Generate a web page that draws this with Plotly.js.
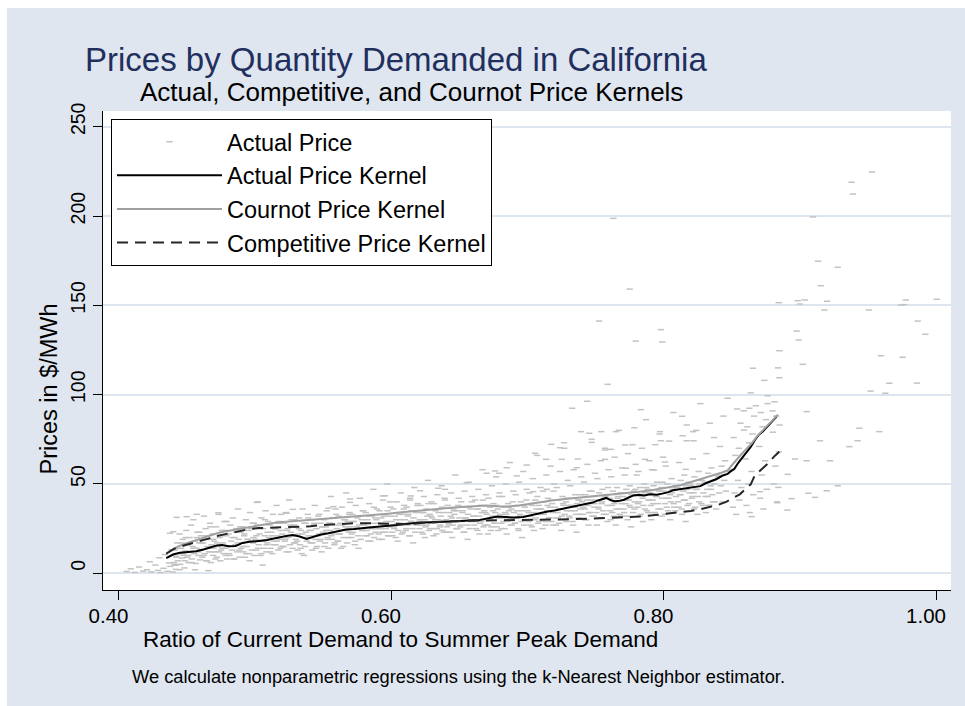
<!DOCTYPE html>
<html>
<head>
<meta charset="utf-8">
<script src="https://cdn.plot.ly/plotly-3.0.1.min.js"></script>
<style>
  html, body { margin: 0; padding: 0; background: #ffffff; }
  #chart { position: absolute; left: 7px; top: 8px; width: 958px; height: 698px; }
</style>
</head>
<body>
<div id="chart"></div>
<script>
// ---------------- DATA ----------------
const xTickVals = [0.4, 0.6, 0.8, 1.0];
const xTickText = ["0.40", "0.60", "0.80", "1.00"];
const yTickVals = [0, 50, 100, 150, 200, 250];
const yTickText = ["0", "50", "100", "150", "200", "250"];

const seriesNames = ["Actual Price", "Actual Price Kernel", "Cournot Price Kernel", "Competitive Price Kernel"];

// Actual prices: [demand ratio, $/MWh]
const priceLowEnd = [[0.406,1.0],[0.409,2.5],[0.412,0.5],[0.415,3.5],[0.418,1.2],[0.421,2.0],[0.423,6.5],[0.424,0.8],[0.427,4.6],[0.429,1.6],[0.430,8.7],[0.431,0.4],[0.433,2.8],[0.434,10.5],[0.436,1.1],[0.437,5.8],[0.438,3.9],[0.439,13.2],[0.440,0.7],[0.442,2.2],[0.4378,22.4],[0.4402,23.3],[0.4427,31.3],[0.450,31.7],[0.4574,33.0],[0.4733,33.9],[0.4659,1.5],[0.5058,4.6]];

const priceBandLeft = [
[0.4405,6],[0.4412,13],[0.4418,4.5],[0.4423,9.5],[0.4431,17],[0.4436,7],[0.4442,11],[0.4448,22],[0.4453,5],[0.4459,14],[0.4465,8.5],[0.4471,19],[0.4477,10],[0.4484,3],[0.4491,12.5],[0.4497,24],
[0.4503,9],[0.4509,16],[0.4514,6],[0.4521,20],[0.4526,12],[0.4532,27],[0.4538,8],[0.4544,15],[0.4549,30],[0.4556,11],[0.4561,18],[0.4567,5.5],[0.4573,14],[0.4579,23],[0.4586,10],[0.4592,17],[0.4598,7.5],
[0.4602,13],[0.4608,21],[0.4615,9],[0.4621,17],[0.4627,32],[0.4633,11],[0.4639,25],[0.4645,7],[0.4652,15],[0.4658,19],[0.4664,12],[0.4671,28],[0.4677,6],[0.4683,16],[0.4689,22],[0.4695,10],[0.4699,14],
[0.4703,18],[0.4709,12],[0.4716,26],[0.4722,9],[0.4728,15],[0.4734,33],[0.4741,20],[0.4747,7],[0.4753,13],[0.4759,24],[0.4766,17],[0.4772,11],[0.4778,29],[0.4784,14],[0.4791,21],[0.4797,8],
[0.4802,15],[0.4808,22],[0.4815,10],[0.4821,27],[0.4827,18],[0.4833,13],[0.4839,31],[0.4846,8],[0.4852,20],[0.4858,16],[0.4864,25],[0.4871,12],[0.4877,36],[0.4883,19],[0.4889,9],[0.4896,23],[0.4899,14],
[0.4903,17],[0.4909,26],[0.4915,12],[0.4922,21],[0.4928,9],[0.4934,30],[0.4940,15],[0.4947,19],[0.4953,24],[0.4959,11],[0.4965,34],[0.4972,18],[0.4978,13],[0.4984,28],[0.4991,20],[0.4997,10],
[0.5004,19],[0.5010,13],[0.5017,27],[0.5023,40],[0.5029,16],[0.5035,22],[0.5042,10],[0.5048,31],[0.5054,18],[0.5061,25],[0.5067,14],[0.5073,21],[0.5079,35],[0.5086,12],[0.5092,17],[0.5098,29],
[0.5103,20],[0.5109,27],[0.5116,14],[0.5122,23],[0.5128,11],[0.5134,33],[0.5141,18],[0.5147,25],[0.5153,16],[0.5160,38],[0.5166,21],[0.5172,13],[0.5178,29],[0.5185,19],[0.5191,24],[0.5197,15],
[0.5202,22],[0.5208,15],[0.5215,28],[0.5221,18],[0.5227,34],[0.5233,12],[0.5240,25],[0.5246,20],[0.5252,41],[0.5258,16],[0.5265,23],[0.5271,30],[0.5277,14],[0.5283,21],[0.5290,27],[0.5296,17],
[0.5301,19],[0.5307,26],[0.5314,13],[0.5320,22],[0.5326,31],[0.5332,16],[0.5339,24],[0.5345,11],[0.5351,36],[0.5357,20],[0.5364,28],[0.5370,15],[0.5376,23],[0.5382,18],[0.5389,33],[0.5395,21],
[0.5402,24],[0.5408,17],[0.5415,30],[0.5421,13],[0.5427,21],[0.5433,27],[0.5440,38],[0.5446,19],[0.5452,25],[0.5458,15],[0.5465,32],[0.5471,22],[0.5477,18],[0.5483,28],[0.5490,12],[0.5496,26]
];

const priceBandMid = [
[0.5503,23],[0.5509,30],[0.5516,17],[0.5522,26],[0.5528,35],[0.5534,20],[0.5541,14],[0.5547,28],[0.5553,24],[0.5559,43],[0.5566,19],[0.5572,31],[0.5578,22],[0.5584,16],[0.5591,27],[0.5597,33],
[0.5602,25],[0.5608,18],[0.5615,32],[0.5621,22],[0.5627,28],[0.5633,14],[0.5640,37],[0.5646,24],[0.5652,20],[0.5658,30],[0.5665,26],[0.5671,45],[0.5677,17],[0.5683,29],[0.5690,23],[0.5696,34],
[0.5703,26],[0.5709,20],[0.5716,33],[0.5722,23],[0.5728,29],[0.5734,16],[0.5741,38],[0.5747,25],[0.5753,31],[0.5759,21],[0.5766,27],[0.5772,42],[0.5778,19],[0.5784,30],[0.5791,24],[0.5797,35],
[0.5802,27],[0.5808,21],[0.5815,34],[0.5821,24],[0.5827,30],[0.5833,18],[0.5840,39],[0.5846,26],[0.5852,22],[0.5858,32],[0.5865,28],[0.5871,47],[0.5877,20],[0.5883,31],[0.5890,25],[0.5896,36],
[0.5903,28],[0.5909,22],[0.5916,35],[0.5922,25],[0.5928,31],[0.5934,19],[0.5941,41],[0.5947,27],[0.5953,33],[0.5959,23],[0.5966,29],[0.5972,50],[0.5978,21],[0.5984,32],[0.5991,26],[0.5997,37],
[0.6003,29],[0.6009,23],[0.6016,36],[0.6022,26],[0.6028,32],[0.6034,20],[0.6041,40],[0.6047,28],[0.6053,24],[0.6059,34],[0.6066,30],[0.6072,45],[0.6078,22],[0.6084,33],[0.6091,27],[0.6097,38],
[0.6102,30],[0.6108,24],[0.6115,37],[0.6121,27],[0.6127,33],[0.6133,21],[0.6140,42],[0.6146,29],[0.6152,35],[0.6158,25],[0.6165,31],[0.6171,48],[0.6177,23],[0.6183,34],[0.6190,28],[0.6196,39],
[0.6203,29],[0.6209,25],[0.6216,38],[0.6222,27],[0.6228,34],[0.6234,22],[0.6241,43],[0.6247,30],[0.6253,26],[0.6259,36],[0.6266,32],[0.6272,52],[0.6278,24],[0.6284,33],[0.6291,28],[0.6297,40],
[0.6302,31],[0.6308,25],[0.6315,39],[0.6321,28],[0.6327,35],[0.6333,22],[0.6340,44],[0.6346,30],[0.6352,36],[0.6358,26],[0.6365,32],[0.6371,49],[0.6377,24],[0.6383,34],[0.6390,29],[0.6396,41],
[0.6403,30],[0.6409,26],[0.6416,38],[0.6422,28],[0.6428,34],[0.6434,23],[0.6441,45],[0.6447,31],[0.6453,27],[0.6459,36],[0.6466,33],[0.6472,55],[0.6478,25],[0.6484,35],[0.6491,29],[0.6497,42],
[0.6502,31],[0.6508,26],[0.6515,40],[0.6521,29],[0.6527,35],[0.6533,23],[0.6540,46],[0.6546,31],[0.6552,37],[0.6558,27],[0.6565,33],[0.6571,51],[0.6577,25],[0.6583,36],[0.6590,30],[0.6596,43],
[0.6603,32],[0.6609,27],[0.6616,41],[0.6622,29],[0.6628,36],[0.6634,24],[0.6641,47],[0.6647,32],[0.6653,28],[0.6659,38],[0.6666,34],[0.6672,58],[0.6678,26],[0.6684,35],[0.6691,30],[0.6697,44],
[0.6702,33],[0.6708,27],[0.6715,42],[0.6721,30],[0.6727,37],[0.6733,24],[0.6740,49],[0.6746,32],[0.6752,39],[0.6758,28],[0.6765,34],[0.6771,54],[0.6777,26],[0.6783,36],[0.6790,31],[0.6796,45],
[0.6803,33],[0.6809,28],[0.6816,43],[0.6822,31],[0.6828,37],[0.6834,25],[0.6841,50],[0.6847,33],[0.6853,29],[0.6859,39],[0.6866,35],[0.6872,62],[0.6878,27],[0.6884,36],[0.6891,31],[0.6897,46],
[0.6902,34],[0.6908,28],[0.6915,44],[0.6921,31],[0.6927,38],[0.6933,25],[0.6940,51],[0.6946,33],[0.6952,40],[0.6958,29],[0.6965,35],[0.6971,57],[0.6977,27],[0.6983,37],[0.6990,32],[0.6996,47]
];

const priceBandRight = [
[0.7003,35],[0.7009,29],[0.7016,45],[0.7022,32],[0.7028,39],[0.7034,26],[0.7041,53],[0.7047,34],[0.7053,30],[0.7059,41],[0.7066,36],[0.7072,66],[0.7078,28],[0.7084,38],[0.7091,33],[0.7097,48],
[0.7102,36],[0.7108,30],[0.7115,46],[0.7121,33],[0.7127,40],[0.7133,27],[0.7140,55],[0.7146,35],[0.7152,42],[0.7158,31],[0.7165,37],[0.7171,60],[0.7177,29],[0.7183,39],[0.7190,34],[0.7196,50],
[0.7203,37],[0.7209,31],[0.7216,48],[0.7222,34],[0.7228,41],[0.7234,28],[0.7241,57],[0.7247,36],[0.7253,32],[0.7259,43],[0.7266,38],[0.7272,70],[0.7278,30],[0.7284,40],[0.7291,35],[0.7297,52],
[0.7302,38],[0.7308,32],[0.7315,49],[0.7321,35],[0.7327,42],[0.7333,29],[0.7340,58],[0.7346,37],[0.7352,44],[0.7358,33],[0.7365,39],[0.7371,64],[0.7377,31],[0.7383,41],[0.7390,36],[0.7396,54],
[0.7403,40],[0.7409,33],[0.7416,51],[0.7422,36],[0.7428,44],[0.7434,30],[0.7441,61],[0.7447,38],[0.7453,34],[0.7459,46],[0.7466,41],[0.7472,75],[0.7478,32],[0.7484,43],[0.7491,37],[0.7497,56],
[0.7502,41],[0.7508,34],[0.7515,53],[0.7521,37],[0.7527,45],[0.7533,31],[0.7540,63],[0.7546,39],[0.7552,47],[0.7558,35],[0.7565,42],[0.7571,69],[0.7577,33],[0.7583,44],[0.7590,38],[0.7596,58],
[0.7603,42],[0.7609,35],[0.7616,54],[0.7622,38],[0.7628,46],[0.7634,32],[0.7641,65],[0.7647,40],[0.7653,36],[0.7659,48],[0.7666,43],[0.7672,80],[0.7678,33],[0.7684,45],[0.7691,39],[0.7697,59],
[0.7702,43],[0.7708,36],[0.7715,55],[0.7721,39],[0.7727,47],[0.7733,32],[0.7740,67],[0.7746,41],[0.7752,49],[0.7758,37],[0.7765,44],[0.7771,72],[0.7777,34],[0.7783,46],[0.7790,40],[0.7796,61],
[0.7803,44],[0.7809,37],[0.7816,57],[0.7822,40],[0.7828,48],[0.7834,33],[0.7841,70],[0.7847,42],[0.7853,38],[0.7859,50],[0.7866,45],[0.7872,86],[0.7878,35],[0.7884,47],[0.7891,41],[0.7897,63],
[0.7902,45],[0.7908,38],[0.7915,58],[0.7921,41],[0.7927,49],[0.7933,34],[0.7940,72],[0.7946,43],[0.7952,51],[0.7958,39],[0.7965,46],[0.7971,78],[0.7977,36],[0.7983,48],[0.7990,42],[0.7996,65],
[0.8003,46],[0.8009,39],[0.8016,60],[0.8022,42],[0.8028,50],[0.8034,35],[0.8041,74],[0.8047,44],[0.8053,40],[0.8059,53],[0.8066,47],[0.8072,90],[0.8078,37],[0.8084,49],[0.8091,43],
[0.8102,48],[0.8108,40],[0.8115,62],[0.8121,44],[0.8127,52],[0.8133,36],[0.8140,77],[0.8146,46],[0.8152,55],[0.8158,41],[0.8165,49],[0.8171,83],[0.8177,38],[0.8183,51],[0.8190,45],
[0.8202,49],[0.8208,42],[0.8215,64],[0.8221,45],[0.8227,54],[0.8233,37],[0.8240,80],[0.8246,47],[0.8252,43],[0.8258,57],[0.8265,50],[0.8271,95],[0.8277,39],[0.8283,52],
[0.8303,51],[0.8309,43],[0.8315,67],[0.8321,47],[0.8327,56],[0.8333,38],[0.8340,84],[0.8346,49],[0.8352,59],[0.8358,44],[0.8365,52],[0.8371,76],[0.8377,40],
[0.8403,54],[0.8409,45],[0.8415,71],[0.8421,49],[0.8427,60],[0.8433,40],[0.8440,88],[0.8446,52],[0.8452,63],[0.8458,46],[0.8465,57],[0.8471,98],
[0.8503,58],[0.8509,37],[0.8515,76],[0.8521,45],[0.8527,66],[0.8533,33],[0.8540,92],[0.8546,52],[0.8552,70],[0.8558,41],[0.8565,84],[0.8571,48],
[0.8603,64],[0.8609,38],[0.8615,82],[0.8621,50],[0.8627,73],[0.8633,34],[0.8640,101],[0.8646,57],[0.8652,78],[0.8658,44],[0.8664,88],
[0.8703,71],[0.8709,42],[0.8715,90],[0.8721,55],[0.8727,82],[0.8733,36],[0.8740,108],[0.8746,63],[0.8752,86],[0.8758,47],[0.8764,95],
[0.8803,79],[0.8809,50],[0.8815,96],[0.8821,60],[0.8827,88],[0.8833,40],[0.8840,115],[0.8846,68],[0.8852,83]
];

const priceBandDense = [
[0.4411,5],[0.4424,9],[0.4437,14],[0.4449,2],[0.4462,17],[0.4474,11],[0.4487,7],[0.4493,20],
[0.4511,10],[0.4524,17],[0.4537,6],[0.4549,14],[0.4562,2],[0.4574,20],[0.4587,12],[0.4593,23],
[0.4611,17],[0.4624,10],[0.4637,21],[0.4649,7],[0.4662,14],[0.4674,26],[0.4687,12],[0.4693,19],
[0.4711,8],[0.4724,17],[0.4737,12],[0.4749,21],[0.4762,14],[0.4774,24],[0.4787,10],[0.4793,29],
[0.4811,11],[0.4824,15],[0.4837,20],[0.4849,8],[0.4862,23],[0.4874,17],[0.4887,13],[0.4893,26],
[0.4911,15],[0.4924,22],[0.4937,11],[0.4949,19],[0.4962,7],[0.4974,25],[0.4987,17],[0.4993,28],
[0.5011,21],[0.5024,14],[0.5037,25],[0.5049,11],[0.5062,18],[0.5074,30],[0.5087,16],[0.5093,23],
[0.5111,12],[0.5124,21],[0.5137,16],[0.5149,25],[0.5162,18],[0.5174,28],[0.5187,14],[0.5193,33],
[0.5211,15],[0.5224,19],[0.5237,24],[0.5249,12],[0.5262,27],[0.5274,21],[0.5287,17],[0.5293,30],
[0.5311,18],[0.5324,25],[0.5337,14],[0.5349,22],[0.5362,10],[0.5374,28],[0.5387,20],[0.5393,31],
[0.5411,24],[0.5424,17],[0.5437,28],[0.5449,14],[0.5462,21],[0.5474,33],[0.5487,19],[0.5493,26],
[0.5511,15],[0.5524,24],[0.5537,19],[0.5549,28],[0.5562,21],[0.5574,31],[0.5587,17],[0.5593,36],
[0.5611,18],[0.5624,22],[0.5637,27],[0.5649,15],[0.5662,30],[0.5674,24],[0.5687,20],[0.5693,33],
[0.5711,22],[0.5724,29],[0.5737,18],[0.5749,26],[0.5762,14],[0.5774,32],[0.5787,24],[0.5793,35],
[0.5811,28],[0.5824,21],[0.5837,32],[0.5849,18],[0.5862,25],[0.5874,37],[0.5887,23],[0.5893,30],
[0.5911,19],[0.5924,28],[0.5937,23],[0.5949,32],[0.5962,25],[0.5974,35],[0.5987,21],[0.5993,40],
[0.6011,21],[0.6024,25],[0.6037,30],[0.6049,18],[0.6062,33],[0.6074,27],[0.6087,23],[0.6093,36],
[0.6111,25],[0.6124,32],[0.6137,21],[0.6149,29],[0.6162,17],[0.6174,35],[0.6187,27],[0.6193,38],
[0.6211,30],[0.6224,23],[0.6237,34],[0.6249,20],[0.6262,27],[0.6274,39],[0.6287,25],[0.6293,32],
[0.6311,21],[0.6324,30],[0.6337,25],[0.6349,34],[0.6362,27],[0.6374,37],[0.6387,23],[0.6393,42],
[0.6411,23],[0.6424,27],[0.6437,32],[0.6449,20],[0.6462,35],[0.6474,29],[0.6487,25],[0.6493,38],
[0.6511,27],[0.6524,34],[0.6537,23],[0.6549,31],[0.6562,19],[0.6574,37],[0.6587,29],[0.6593,40],
[0.6611,32],[0.6624,25],[0.6637,36],[0.6649,22],[0.6662,29],[0.6674,41],[0.6687,27],[0.6693,34],
[0.6711,22],[0.6724,31],[0.6737,26],[0.6749,35],[0.6762,28],[0.6774,38],[0.6787,24],[0.6793,43],
[0.6811,25],[0.6824,29],[0.6837,34],[0.6849,22],[0.6862,37],[0.6874,31],[0.6887,27],[0.6893,40],
[0.6911,28],[0.6924,35],[0.6937,24],[0.6949,32],[0.6962,20],[0.6974,38],[0.6987,30],[0.6993,41],
[0.7011,34],[0.7024,27],[0.7037,38],[0.7049,24],[0.7062,31],[0.7074,43],[0.7087,29],[0.7093,36],
[0.7111,25],[0.7124,34],[0.7137,29],[0.7149,38],[0.7162,31],[0.7174,41],[0.7187,27],[0.7193,46],
[0.7211,27],[0.7224,31],[0.7237,36],[0.7249,24],[0.7262,39],[0.7274,33],[0.7287,29],[0.7293,42],
[0.7311,31],[0.7324,38],[0.7337,27],[0.7349,35],[0.7362,23],[0.7374,41],[0.7387,33],[0.7393,44],
[0.7411,37],[0.7424,30],[0.7437,41],[0.7449,27],[0.7462,34],[0.7474,46],[0.7487,32],[0.7493,39],
[0.7511,27],[0.7524,36],[0.7537,31],[0.7549,40],[0.7562,33],[0.7574,43],[0.7587,29],[0.7593,48],
[0.7611,30],[0.7624,34],[0.7637,39],[0.7649,27],[0.7662,42],[0.7674,36],[0.7687,32],[0.7693,45],
[0.7711,34],[0.7724,41],[0.7737,30],[0.7749,38],[0.7762,26],[0.7774,44],[0.7787,36],[0.7793,47],
[0.7811,39],[0.7824,32],[0.7837,43],[0.7849,29],[0.7862,36],[0.7874,48],[0.7887,34],[0.7893,41],
[0.7911,30],[0.7924,39],[0.7937,34],[0.7949,43],[0.7962,36],[0.7974,46],[0.7987,32],[0.7993,51],
[0.8011,33],[0.8024,37],[0.8037,42],[0.8049,30],[0.8062,45],[0.8074,39],[0.8087,35],[0.8093,48],
[0.8111,37],[0.8124,44],[0.8137,33],[0.8149,41],[0.8162,29],[0.8174,47],[0.8187,39],[0.8193,50],
[0.8211,43],[0.8224,36],[0.8237,47],[0.8249,33],[0.8262,40],[0.8274,52],[0.8287,38],[0.8293,45],
[0.8311,34],[0.8324,43],[0.8337,38],[0.8349,47],[0.8362,40],[0.8374,50],[0.8387,36],[0.8393,55]
];

const priceOutliers = [[0.953,224.6],[0.938,218.9],[0.939,212.3],[0.9097,199.5],[0.7632,198.7],[0.9134,174.7],[0.9279,171.3],[0.9154,161.0],[0.7752,159.1],[0.8845,151.5],[0.8985,152.6],[0.900,150.7],[0.9036,153.0],[0.920,152.3],[0.9778,153.0],[0.9743,150.2],[0.9765,150.4],[1.0005,153.4],[0.918,147.4],[0.9506,147.4],[0.9866,141.2],[0.7527,141.2],[0.8977,135.6],[0.798,136.4],[0.8992,130.6],[0.7796,130.0],[0.7991,129.5],[0.9922,133.8],[0.885,124.6],[0.9596,121.8],[0.9755,120.9],[0.8657,114.8],[0.9022,117.0],[0.885,109.5],[0.9657,106.4],[0.986,106.5],[0.952,102.0],[0.9628,100.8],[0.8765,99.4],[0.759,105.8],[0.744,96.3],[0.733,92.4],[0.7833,91.6],[0.859,91.0],[0.863,92.4],[0.8677,93.8],[0.880,90.9],[0.8136,87.9],[0.905,90.5],[0.7395,79.3],[0.7455,78.4],[0.7543,79.3],[0.7651,79.3],[0.7786,81.5],[0.7974,79.3],[0.8217,79.3],[0.859,80.2],[0.9437,81.2],[0.9584,79.3],[0.7175,72.2],[0.727,73.1],[0.7473,73.3],[0.798,74.2],[0.817,74.2],[0.822,74.2],[0.7717,71.8],[0.9149,74.2],[0.9425,74.2],[0.9364,70.9],[0.7057,67.2],[0.724,70.3],[0.757,70.0],[0.7613,69.4],[0.8965,64.0],[0.905,63.0],[0.9222,63.0],[0.7138,63.8],[0.7253,63.8],[0.6996,60.6],[0.757,63.8],[0.7864,63.8],[0.8011,62.3],[0.6849,59.1],[0.6702,56.0],[0.6763,57.3],[0.6793,56.0],[0.6923,54.5],[0.6556,50.7],[0.6347,47.6],[0.6396,47.0],[0.6213,46.2],[0.7363,59.1],[0.7725,58.8],[0.7803,55.0],[0.793,57.8],[0.8163,58.2],[0.6145,43.3],[0.5956,43.4],[0.7044,45.7],[0.7143,47.0],[0.8912,55.4],[0.8843,48.1],[0.9279,49.0],[0.9198,46.2],[0.9063,44.8],[0.9112,42.5],[0.894,41.8],[0.8835,39.5],[0.8909,35.4],[0.8647,31.7],[0.8708,45.7],[0.5939,43.3],[0.5699,41.6],[0.5699,39.7],[0.554,36.4],[0.5577,37.3],[0.5014,39.7],[0.614,41.0],[0.528,35.8],[0.5234,33.6]];

// Kernel estimates
const actualKernelX = [0.435,0.440,0.445,0.450,0.457,0.463,0.468,0.472,0.476,0.481,0.486,0.491,0.496,0.502,0.509,0.514,0.519,0.524,0.528,0.533,0.538,0.542,0.548,0.554,0.560,0.567,0.573,0.580,0.586,0.592,0.598,0.604,0.610,0.616,0.622,0.629,0.635,0.641,0.648,0.654,0.660,0.665,0.670,0.675,0.678,0.684,0.690,0.697,0.703,0.709,0.714,0.720,0.725,0.730,0.735,0.740,0.744,0.748,0.752,0.756,0.758,0.761,0.764,0.768,0.771,0.774,0.778,0.782,0.786,0.790,0.795,0.799,0.803,0.807,0.811,0.815,0.819,0.823,0.827,0.831,0.835,0.839,0.843,0.847,0.849,0.852,0.855,0.858,0.861,0.864,0.867,0.870,0.873,0.876,0.879,0.881,0.883];
const actualKernelY = [8.5,10.5,11.5,12.0,12.3,13.5,14.8,15.5,15.8,15.2,15.3,17.0,17.6,18.0,18.6,19.5,20.4,21.0,21.4,20.6,19.2,20.3,21.6,22.4,23.5,24.5,24.8,25.5,25.8,26.2,26.5,27.0,27.6,28.2,28.4,28.6,28.9,29.0,29.2,29.4,29.5,29.9,30.6,31.2,31.8,31.5,31.2,31.5,32.6,33.8,34.5,35.2,36.0,36.6,37.2,38.1,39.0,39.6,40.8,41.8,42.2,41.0,40.3,40.6,41.2,42.3,43.6,43.9,43.5,44.2,44.0,44.6,45.3,46.5,46.9,47.2,47.6,48.2,48.8,50.4,51.5,52.8,54.6,55.6,56.9,58.5,62.0,64.8,68.0,70.8,74.5,77.6,79.5,82.0,84.3,86.0,87.8];

const cournotKernelX = [0.437,0.443,0.449,0.455,0.461,0.467,0.473,0.479,0.485,0.491,0.497,0.503,0.509,0.516,0.523,0.530,0.537,0.544,0.551,0.558,0.566,0.574,0.582,0.590,0.598,0.606,0.614,0.622,0.630,0.638,0.646,0.654,0.662,0.670,0.678,0.686,0.694,0.702,0.710,0.718,0.726,0.734,0.742,0.750,0.758,0.766,0.774,0.782,0.790,0.798,0.806,0.813,0.820,0.827,0.833,0.838,0.843,0.847,0.850,0.853,0.857,0.861,0.865,0.869,0.873,0.877,0.881,0.884];
const cournotKernelY = [12.0,14.8,16.6,18.2,19.8,21.2,22.6,23.6,24.4,25.3,26.2,27.0,27.8,28.5,28.9,29.3,29.6,30.2,30.8,31.2,31.6,32.0,32.4,32.8,33.4,34.0,34.6,35.3,35.9,36.3,36.8,37.2,37.6,37.9,37.5,37.4,38.0,39.0,40.0,40.8,41.4,42.0,42.4,42.9,43.5,44.0,44.8,45.6,46.4,47.2,48.4,49.4,51.0,52.6,54.0,55.2,56.4,57.6,60.5,63.0,66.5,69.5,73.0,77.0,80.3,83.5,86.5,88.8];

const competitiveKernelX = [0.435,0.441,0.448,0.454,0.460,0.466,0.472,0.478,0.484,0.490,0.496,0.503,0.510,0.518,0.526,0.534,0.541,0.549,0.558,0.566,0.575,0.584,0.594,0.604,0.614,0.624,0.634,0.644,0.654,0.664,0.674,0.684,0.694,0.704,0.714,0.724,0.734,0.744,0.754,0.764,0.774,0.784,0.794,0.804,0.812,0.820,0.827,0.834,0.840,0.846,0.851,0.856,0.860,0.864,0.867,0.870,0.873,0.876,0.879,0.882,0.885];
const competitiveKernelY = [11.0,13.8,15.6,16.8,17.8,19.4,20.9,21.9,22.8,24.2,24.8,25.3,25.5,25.8,26.1,26.0,26.3,27.0,27.4,27.9,28.1,28.0,27.8,27.5,27.6,28.3,28.9,29.1,29.4,29.5,29.7,29.8,29.8,29.9,29.8,29.9,30.3,30.6,30.9,31.3,31.6,31.8,32.6,33.4,34.0,34.9,35.8,37.0,38.3,40.0,42.2,44.2,47.0,49.8,54.8,57.2,59.0,61.0,63.8,66.0,68.0];

// ---------------- CHART ----------------
const FONT = "Liberation Sans, Arial, Helvetica, sans-serif";
const allPrices = priceLowEnd.concat(priceBandLeft, priceBandDense, priceBandMid, priceBandRight, priceOutliers);

const traces = [
  {
    type: "scatter", mode: "markers", name: seriesNames[0], legendgroup: "g1",
    x: allPrices.map(p => p[0]), y: allPrices.map(p => p[1]),
    marker: { symbol: "line-ew", size: 4.5, color: "#c2c2c2", line: { color: "#c2c2c2", width: 1.5 } },
    hoverinfo: "x+y"
  },
  {
    type: "scatter", mode: "lines", name: seriesNames[1], legendgroup: "g2",
    x: actualKernelX, y: actualKernelY,
    line: { color: "#000000", width: 2 }
  },
  {
    type: "scatter", mode: "lines", name: seriesNames[2], legendgroup: "g3",
    x: cournotKernelX, y: cournotKernelY,
    line: { color: "#a0a0a0", width: 2 }
  },
  {
    type: "scatter", mode: "lines", name: seriesNames[3], legendgroup: "g4",
    x: competitiveKernelX, y: competitiveKernelY,
    line: { color: "#262626", width: 2, dash: "11px,7px" }
  }
];

// plot area: x 103..951, y 111..590 (page pixels)
const PX = px => (px - 103) / 848;
const PY = py => (590 - py) / 479;

const layout = {
  width: 958, height: 698,
  margin: { l: 96, r: 14, t: 103, b: 116, pad: 0 },
  paper_bgcolor: "#dfe6ef",
  plot_bgcolor: "#ffffff",
  font: { family: FONT, color: "#000000" },
  showlegend: true,
  legend: {
    x: PX(111), y: PY(119), xanchor: "left", yanchor: "top",
    bgcolor: "#ffffff", bordercolor: "#000000", borderwidth: 1,
    font: { family: FONT, size: 23.5, color: "#000000" },
    itemwidth: 105, traceorder: "grouped", tracegroupgap: 0,
    itemclick: false, itemdoubleclick: false
  },
  xaxis: {
    range: [0.3886, 1.0110],
    tickmode: "array", tickvals: xTickVals, ticktext: xTickText,
    ticks: "outside", ticklen: 9, tickwidth: 1, tickcolor: "#000000",
    tickfont: { family: FONT, size: 20.5, color: "#000000" },
    ticklabelshift: -10, ticklabelstandoff: -2,
    showline: true, linecolor: "#000000", linewidth: 1,
    showgrid: false, zeroline: false
  },
  yaxis: {
    range: [-9.35, 258.8],
    tickmode: "array", tickvals: yTickVals, ticktext: yTickText,
    ticks: "outside", ticklen: 9, tickwidth: 1, tickcolor: "#000000",
    tickangle: -90,
    tickfont: { family: FONT, size: 19.5, color: "#000000" },
    ticklabelshift: -5,
    showline: true, linecolor: "#000000", linewidth: 1,
    showgrid: true, gridcolor: "#dde5ee", gridwidth: 2, zeroline: false
  },
  annotations: [
    { text: "Prices by Quantity Demanded in California", xref: "paper", yref: "paper",
      x: PX(83), y: PY(60), xanchor: "left", yanchor: "middle", showarrow: false,
      font: { family: FONT, size: 33, color: "#1f2f5e" } },
    { text: "Actual, Competitive, and Cournot Price Kernels", xref: "paper", yref: "paper",
      x: PX(138), y: PY(92), xanchor: "left", yanchor: "middle", showarrow: false,
      font: { family: FONT, size: 26, color: "#000000" } },
    { text: "Ratio of Current Demand to Summer Peak Demand", xref: "paper", yref: "paper",
      x: PX(141), y: PY(639), xanchor: "left", yanchor: "middle", showarrow: false,
      font: { family: FONT, size: 22.5, color: "#000000" } },
    { text: "Prices in $/MWh", xref: "paper", yref: "paper", textangle: -90,
      x: PX(48), y: PY(477), xanchor: "center", yanchor: "bottom", showarrow: false,
      font: { family: FONT, size: 23.5, color: "#000000" } },
    { text: "We calculate nonparametric regressions using the k-Nearest Neighbor estimator.", xref: "paper", yref: "paper",
      x: PX(130), y: PY(677), xanchor: "left", yanchor: "middle", showarrow: false,
      font: { family: FONT, size: 18.3, color: "#000000" } }
  ]
};

Plotly.newPlot("chart", traces, layout, { staticPlot: true, displayModeBar: false });
</script>
</body>
</html>
